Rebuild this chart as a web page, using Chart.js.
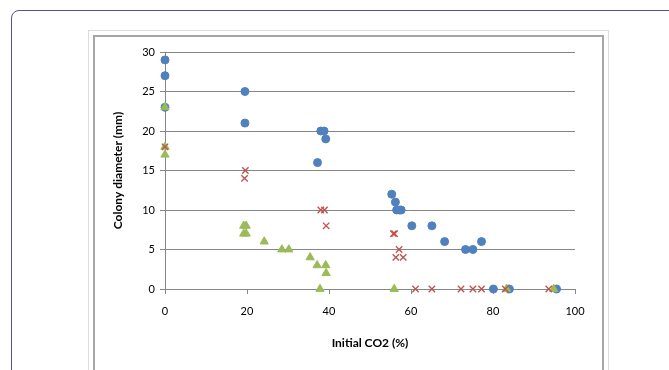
<!DOCTYPE html>
<html>
<head>
<meta charset="utf-8">
<script src="https://cdn.jsdelivr.net/npm/chart.js@4.4.0/dist/chart.umd.min.js"></script>
<style>
  html, body { margin: 0; padding: 0; background: #fff; overflow: hidden; }
  #wrap { position: relative; width: 669px; height: 370px; }
  .outer { position: absolute; left: 11px; top: 10px; width: 720px; height: 420px; border: 1px solid #5b4f9a; border-radius: 8px; }
  .light { position: absolute; left: 88px; top: 30px; width: 519px; height: 400px; border: 1px solid #dcdcdc; }
  .dark { position: absolute; left: 93px; top: 35px; width: 507px; height: 400px; border: 2px solid #a6a6a6; }
  canvas { position: absolute; left: 0; top: 0; }
</style>
</head>
<body>
<div id="wrap">
  <div class="outer"></div>
  <div class="light"></div>
  <div class="dark"></div>
  <canvas id="myChart" width="669" height="370"></canvas>
</div>
<script>
// blue circles
const blueX = [0, 0, 0, 19.5, 19.5, 38, 38.8, 39.2, 37.2, 55.3, 56.2, 56.5, 57.2, 57.6, 60.2, 65.1, 68.2, 73.3, 75.1, 77.2, 80.1, 84, 95.5];
const blueY = [29, 27, 23, 25, 21, 20, 20, 19, 16, 12, 11, 10, 10, 10, 8, 8, 6, 5, 5, 6, 0, 0, 0];
// red crosses
const redX = [0, 19.6, 19.4, 38, 38.9, 39.3, 55.7, 56, 57.1, 56.3, 58.1, 61.1, 65.1, 72.2, 75.1, 77.2, 83, 93.6];
const redY = [18, 15, 14, 10, 10, 8, 7, 7, 5, 4, 4, 0, 0, 0, 0, 0, 0, 0];
// green triangles
const greenX = [0, 0, 0, 19.2, 19.8, 19.2, 19.8, 24.2, 28.5, 30.2, 35.4, 37.1, 39.2, 39.3, 37.8, 55.9, 83.3, 94.8];
const greenY = [23, 18, 17, 8, 8, 7, 7, 6, 5, 5, 4, 3, 3, 2, 0, 0, 0, 0];

const xTitle = 'Initial CO2 (%)';
const yTitle = 'Colony diameter (mm)';

const toPoints = (xs, ys) => xs.map((x, i) => ({x: x, y: ys[i]}));

const tickFont = {family: 'Lato', size: 11};
const titleFont = {family: 'Lato', size: 12, weight: 'bold'};

const ctx = document.getElementById('myChart').getContext('2d');
const chart = new Chart(ctx, {
  type: 'scatter',
  data: {
    datasets: [
      {
        label: 'blue',
        data: toPoints(blueX, blueY),
        pointStyle: 'circle',
        pointRadius: 4,
        backgroundColor: '#4f81bd',
        borderColor: '#4f81bd',
        borderWidth: 1,
        clip: false,
        order: 3
      },
      {
        label: 'red',
        data: toPoints(redX, redY),
        pointStyle: 'crossRot',
        pointRadius: 4.5,
        backgroundColor: '#c0504d',
        borderColor: '#c0504d',
        borderWidth: 1.3,
        clip: false,
        order: 1
      },
      {
        label: 'green',
        data: toPoints(greenX, greenY),
        pointStyle: 'triangle',
        pointRadius: 4.8,
        backgroundColor: '#9bbb59',
        borderColor: '#9bbb59',
        borderWidth: 1,
        clip: false,
        order: 2
      }
    ]
  },
  options: {
    responsive: false,
    animation: false,
    layout: {padding: {left: 105, right: 94, top: 52, bottom: 0}},
    plugins: {legend: {display: false}, tooltip: {enabled: false}},
    scales: {
      x: {
        type: 'linear',
        min: 0, max: 100,
        ticks: {stepSize: 20, color: '#000', font: tickFont, padding: 11},
        grid: {drawOnChartArea: false, drawTicks: true, tickLength: 5, color: '#868686'},
        border: {color: '#868686'},
        title: {display: true, text: xTitle, color: '#000', font: titleFont, padding: {top: 0, bottom: 20}},
        afterFit: s => { s.height = 81; }
      },
      y: {
        type: 'linear',
        min: 0, max: 30,
        ticks: {stepSize: 5, color: '#000', font: tickFont, padding: 5},
        grid: {color: '#868686', tickLength: 5},
        border: {color: '#868686'},
        title: {display: true, text: yTitle, color: '#000', font: titleFont, padding: {top: 6, bottom: 0}},
        afterFit: s => { s.width = 60; }
      }
    }
  }
});
</script>
</body>
</html>
